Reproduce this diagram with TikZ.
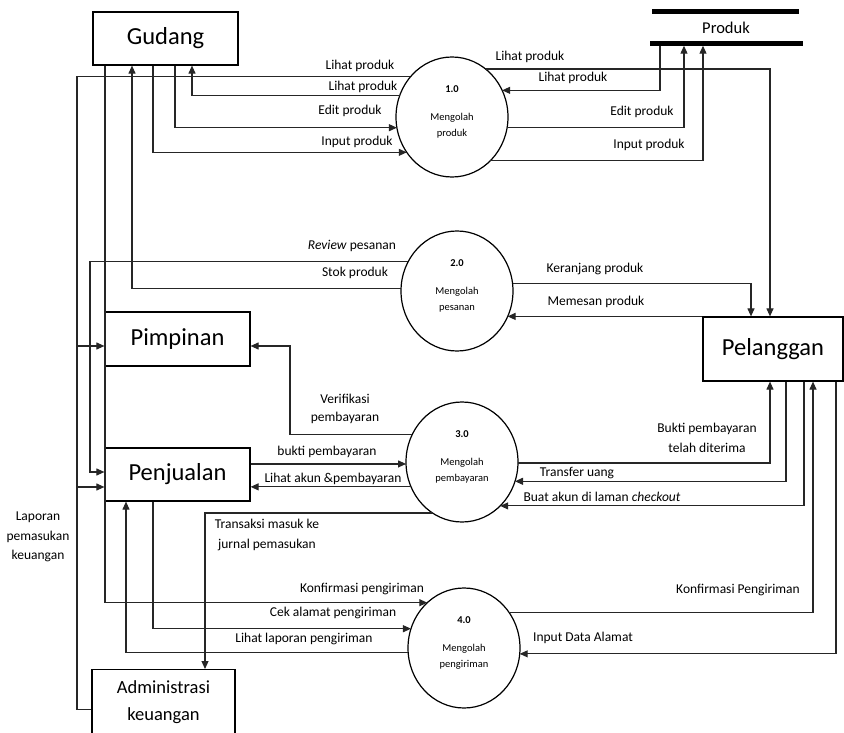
\documentclass[tikz,border=0pt]{standalone}
\usepackage{fontspec}
\setmainfont{Carlito}
\usetikzlibrary{arrows.meta,shapes.geometric,calc}
\begin{document}
\begin{tikzpicture}[x=1pt,y=-1pt,
  flow/.style={draw=black!85, line width=1.1pt},
  arr/.style={flow, -{Triangle[length=8pt,width=7pt]}},
  ent/.style={draw, line width=1.2pt, minimum width=145pt, minimum height=53pt, inner sep=0pt, font=\fontsize{24.5}{28}\selectfont},
  proc/.style={draw, ellipse, line width=1.2pt, minimum width=112pt, minimum height=120pt, inner sep=0pt, outer sep=0pt},
  ptxt/.style={align=center, inner sep=0pt, font=\fontsize{10.5}{16}\selectfont},
  lbl/.style={inner sep=0pt, align=center, font=\fontsize{13.5}{19}\selectfont},
]
\useasboundingbox (0,0) rectangle (844,733);

% ---------- entities ----------
\node[ent] (gudang) at (165.5,38.5) {Gudang};
\node[ent, minimum height=54pt] (pimpinan) at (177.5,339) {Pimpinan};
\node[ent] (penjualan) at (177.5,474.5) {Penjualan};
\node[ent, minimum width=140pt, minimum height=64pt] (pelanggan) at (773,349) {Pelanggan};
\node[draw, line width=1.2pt, minimum width=143pt, minimum height=80pt, anchor=north, inner sep=0pt] (adminbox) at (163.5,669) {};
\node[inner sep=0pt, align=center, font=\fontsize{18.5}{27}\selectfont] (admintext) at (163.5,702.5) {Administrasi\\keuangan};

% ---------- data store ----------
\node[inner sep=0pt, minimum width=150pt, minimum height=31pt, font=\fontsize{16.5}{20}\selectfont] (produk) at (726,27.5) {Produk};
\draw[line width=5pt] (652,11.5) -- (799,11.5);
\draw[line width=5pt] (650,43.5) -- (803,43.5);
\coordinate (pbar) at ([yshift=-2.5pt]produk.south);

% ---------- processes ----------
\node[proc] (p1) at (452,117) {};
\node[proc] (p2) at (457,291) {};
\node[proc] (p3) at (462,462) {};
\node[proc] (p4) at (464,648) {};
\node[ptxt] (p1t) at (452,112) {\textbf{1.0}\\[12pt]Mengolah\\produk};
\node[ptxt] (p2t) at (457,286) {\textbf{2.0}\\[12pt]Mengolah\\pesanan};
\node[ptxt] (p3t) at (462,457) {\textbf{3.0}\\[12pt]Mengolah\\pembayaran};
\node[ptxt] (p4t) at (464,643) {\textbf{4.0}\\[12pt]Mengolah\\pengiriman};

% ---------- helper coordinates ----------
\coordinate (xL) at (77,0);
\coordinate (xR) at (90,0);
\coordinate (xK) at (105,0);
\coordinate (xLL) at (126,0);
\coordinate (xS) at (132,0);
\coordinate (xI) at (153,0);
\coordinate (xE) at (175,0);
\coordinate (xV) at (192,0);
\coordinate (xT) at (205,0);
\coordinate (xVer) at (290,0);
\coordinate (xPL) at (660,0);
\coordinate (xPE) at (684,0);
\coordinate (xPI) at (703,0);
\coordinate (xC2) at (751,0);
\coordinate (xC1) at (770,0);
\coordinate (xC4) at (786,0);
\coordinate (xC5) at (804,0);
\coordinate (xC6) at (813,0);
\coordinate (xC7) at (836,0);
\coordinate (pmA) at ([yshift=-7pt]pimpinan.west);
\coordinate (pmB) at ([yshift=-7pt]pimpinan.east);
\coordinate (pjA) at ([yshift=2.5pt]penjualan.west);
\coordinate (pjB) at ([yshift=-12.5pt]penjualan.west);

% ---------- flows around 1.0 ----------
\draw[flow] (adminbox.west) -| (xL |- p1.136) -- (p1.136);
\draw[arr] (xL |- pmA) -- (pmA);
\draw[arr] (xL |- pjB) -- (pjB);
\draw[arr] (p1.158) -| (gudang.south -| xV);
\draw[arr] (gudang.south -| xE) |- (p1.191);
\draw[arr] (gudang.south -| xI) |- (p1.218);
\draw[arr] (p1.55) -| (pelanggan.north -| xC1);
\draw[arr] (pbar -| xPL) |- (p1.28);
\draw[arr] (p1.349) -| (pbar -| xPE);
\draw[arr] (p1.311) -| (pbar -| xPI);

% ---------- flows around 2.0 ----------
\draw[arr] (p2.149) -- (p2.149 -| xR) |- (pjA);
\draw[arr] (p2.177) -| (gudang.south -| xS);
\draw[arr] (p2.8) -| (pelanggan.north -| xC2);
\draw[arr] (pelanggan.north west) -- (p2.333 |- pelanggan.north west);

% ---------- flows around 3.0 ----------
\draw[arr] (p3.151) -| (xVer |- pmB) -- (pmB);
\draw[arr] (penjualan.east |- p3.182) -- (p3.182);
\draw[arr] (p3.206) -- (penjualan.east |- p3.206);
\draw[arr] (p3.240) -| (adminbox.north -| xT);
\draw[arr] (p3.359) -| (pelanggan.south -| xC1);
\draw[arr] (pelanggan.south -| xC4) |- (p3.340);
\draw[arr] (pelanggan.south -| xC5) |- (p3.311);

% ---------- flows around 4.0 ----------
\draw[arr] (gudang.south -| xK) |- (p4.129);
\draw[arr] (penjualan.south -| xI) |- (p4.160);
\draw[arr] (p4.185) -| (penjualan.south -| xLL);
\draw[arr] (p4.38) -| (pelanggan.south -| xC6);
\draw[arr] (pelanggan.south -| xC7) |- (p4.354);

% ---------- labels ----------
\node[lbl] (l1) at (360,66) {Lihat produk};
\node[lbl] (l2) at (363,87) {Lihat produk};
\node[lbl] (l3) at (350,111) {Edit produk};
\node[lbl] (l4) at (357,142) {Input produk};
\node[lbl] (l5) at (530,57) {Lihat produk};
\node[lbl] (l6) at (573,78) {Lihat produk};
\node[lbl] (l7) at (642,112) {Edit produk};
\node[lbl] (l8) at (649,145) {Input produk};
\node[lbl] (l9) at (352,246) {\textit{Review} pesanan};
\node[lbl] (l10) at (355,273) {Stok produk};
\node[lbl] (l11) at (595,269) {Keranjang produk};
\node[lbl] (l12) at (596,302) {Memesan produk};
\node[lbl, font=\fontsize{13.5}{18}\selectfont] (l13) at (345,409) {Verifikasi\\pembayaran};
\node[lbl] (l14) at (327,452) {bukti pembayaran};
\node[lbl] (l15) at (333,479) {Lihat akun \&pembayaran};
\node[lbl, font=\fontsize{13.5}{20}\selectfont] (l16) at (267,535) {Transaksi masuk ke\\jurnal pemasukan};
\node[lbl, font=\fontsize{13.5}{20}\selectfont] (l17) at (707,438) {Bukti pembayaran\\telah diterima};
\node[lbl] (l18) at (577,473) {Transfer uang};
\node[lbl] (l19) at (602,497) {Buat akun di laman \textit{checkout}};
\node[lbl] (l20) at (362,589) {Konfirmasi pengiriman};
\node[lbl] (l21) at (333,613) {Cek alamat pengiriman};
\node[lbl] (l22) at (304,639) {Lihat laporan pengiriman};
\node[lbl] (l23) at (738,590) {Konfirmasi Pengiriman};
\node[lbl] (l24) at (583,638) {Input Data Alamat};
\node[lbl, font=\fontsize{13.5}{19.5}\selectfont] (l25) at (38,537) {Laporan\\pemasukan\\keuangan};
\end{tikzpicture}
\end{document}
